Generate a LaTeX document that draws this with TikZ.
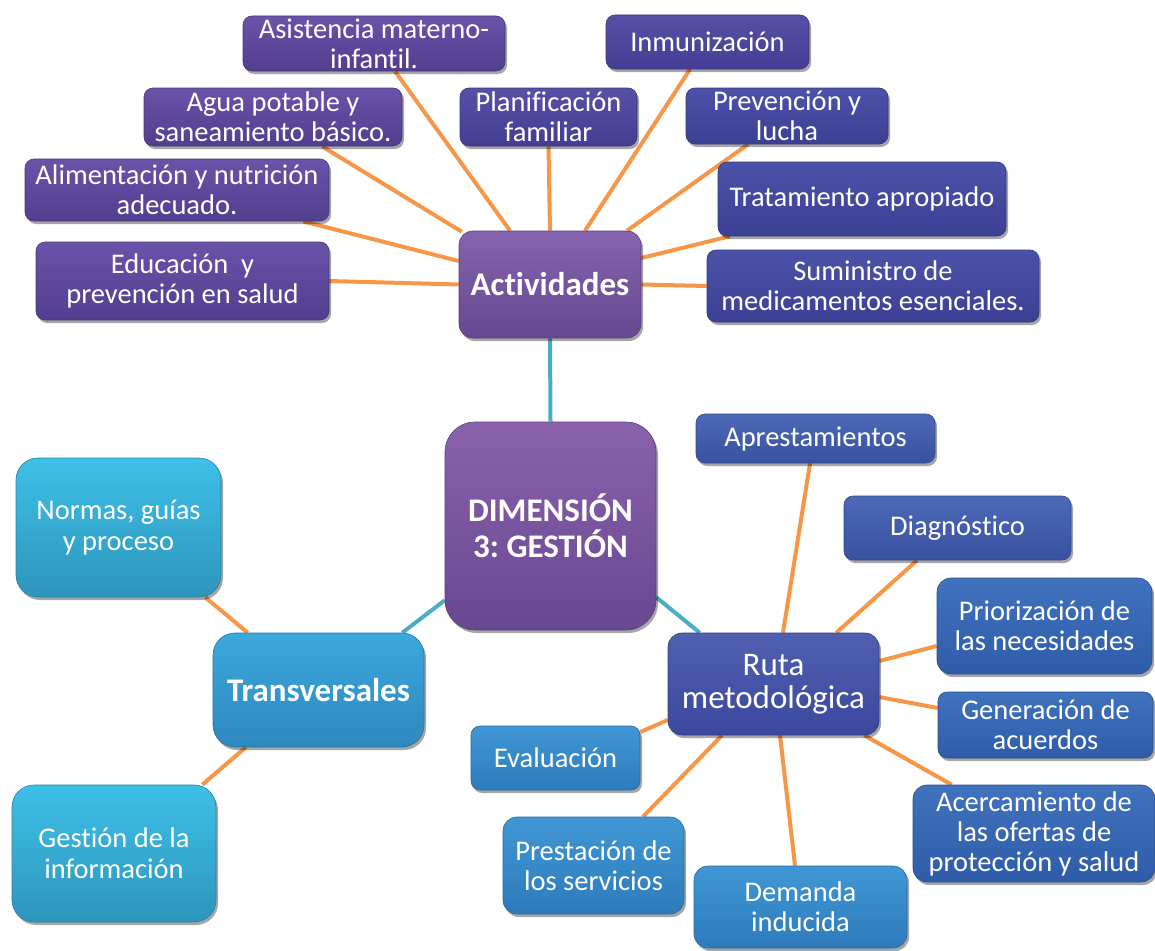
\documentclass[tikz,border=0pt]{standalone}
\usepackage{fontspec}
\setmainfont{Carlito}[Ligatures=NoCommon]
\usetikzlibrary{shadows,backgrounds}

% box colours: top / bottom of the vertical gradient
\definecolor{purTop}{HTML}{6A52A8}\definecolor{purBot}{HTML}{523E8F}
\definecolor{indTop}{HTML}{5650A6}\definecolor{indBot}{HTML}{433D93}
\definecolor{vioTop}{HTML}{4C52A8}\definecolor{vioBot}{HTML}{3C4095}
\definecolor{actTop}{HTML}{8664AE}\definecolor{actBot}{HTML}{664790}
\definecolor{dimTop}{HTML}{8A62AC}\definecolor{dimBot}{HTML}{694891}
\definecolor{rutTop}{HTML}{5060B0}\definecolor{rutBot}{HTML}{3B489E}
\definecolor{bluTop}{HTML}{4C68B6}\definecolor{bluBot}{HTML}{3952A0}
\definecolor{medTop}{HTML}{4072BE}\definecolor{medBot}{HTML}{2F5CA8}
\definecolor{ligTop}{HTML}{4097D4}\definecolor{ligBot}{HTML}{2E7BBB}
\definecolor{traTop}{HTML}{3CA8DC}\definecolor{traBot}{HTML}{2E88BE}
\definecolor{cyaTop}{HTML}{3EC0E8}\definecolor{cyaBot}{HTML}{2E95BC}
\definecolor{linkOrange}{HTML}{F79646}
\definecolor{linkTeal}{HTML}{4BACC6}

\tikzset{
  box/.style n args={2}{rectangle, rounded corners=9pt, top color=#1, bottom color=#2,
    draw=#2!85!black, line width=0.6pt, text=white, align=center, inner sep=0pt,
    font=\fontsize{28.5}{30}\selectfont,
    drop shadow={shadow xshift=2pt, shadow yshift=-3pt, opacity=0.35, fill=black}},
  bigbox/.style={rounded corners=22pt},
  headfont/.style={font=\fontsize{33}{36}\selectfont\bfseries},
  orangelink/.style={draw=linkOrange, line width=4pt},
  teallink/.style={draw=linkTeal, line width=4pt},
}

\begin{document}
\frenchspacing
\begin{tikzpicture}[x=1pt,y=-1pt]
\useasboundingbox (0,0) rectangle (1155,950);

% ---- Actividades branch ----
\node[box={purTop}{purBot}, minimum width=262pt, minimum height=55pt] (asis) at (374,43.5)
  {Asistencia materno-\\infantil.};
\node[box={indTop}{indBot}, minimum width=203pt, minimum height=54pt] (inmu) at (707.5,42)
  {Inmunización};
\node[box={purTop}{purBot}, minimum width=258pt, minimum height=58pt] (agua) at (273,117)
  {Agua potable y\\saneamiento básico.};
\node[box={indTop}{indBot}, minimum width=177pt, minimum height=58pt] (plan) at (548.5,117)
  {Planificación\\familiar};
\node[box={vioTop}{vioBot}, minimum width=202pt, minimum height=56pt] (prev) at (787,116)
  {Prevención y\\lucha};
\node[box={purTop}{purBot}, minimum width=304pt, minimum height=62pt] (alim) at (177,190)
  {Alimentación y nutrición\\adecuado.};
\node[box={vioTop}{vioBot}, minimum width=288pt, minimum height=74pt] (trat) at (862,199)
  {Tratamiento apropiado};
\node[box={purTop}{purBot}, minimum width=293pt, minimum height=78pt] (educ) at (182.5,281)
  {Educación\ \ y\\prevención en salud};
\node[box={actTop}{actBot}, minimum width=182pt, minimum height=107pt, rounded corners=14pt,
  headfont] (acti) at (550,284.5) {Actividades};
\node[box={vioTop}{vioBot}, minimum width=332pt, minimum height=72pt] (sumi) at (873,286)
  {Suministro de\\medicamentos esenciales.};

% ---- centre ----
\node[box={dimTop}{dimBot}, rounded corners=30pt, minimum width=211pt, minimum height=208pt,
  headfont] (dim) at (550.5,526) {DIMENSIÓN\\3: GESTIÓN};

% ---- Transversales branch ----
\node[box={cyaTop}{cyaBot}, bigbox, minimum width=205pt, minimum height=139pt,
  font=\fontsize{28.5}{31}\selectfont] (norm) at (118.5,527.5) {Normas, guías\\y proceso};
\node[box={traTop}{traBot}, bigbox, minimum width=211pt, minimum height=114pt,
  headfont] (tran) at (318.5,690) {Transversales};
\node[box={cyaTop}{cyaBot}, bigbox, minimum width=204pt, minimum height=137pt,
  font=\fontsize{28.5}{31}\selectfont] (gest) at (114,853.5) {Gestión de la\\información};

% ---- Ruta metodológica branch ----
\node[box={bluTop}{bluBot}, minimum width=239pt, minimum height=49pt] (apre) at (815.5,438.5)
  {Aprestamientos};
\node[box={bluTop}{bluBot}, minimum width=227pt, minimum height=64pt] (diag) at (957.5,528)
  {Diagnóstico};
\node[box={medTop}{medBot}, rounded corners=14pt, minimum width=215pt, minimum height=96pt] (prio) at (1044.5,626)
  {Priorización de\\las necesidades};
\node[box={rutTop}{rutBot}, rounded corners=14pt, minimum width=211pt, minimum height=102pt,
  font=\fontsize{33}{33}\selectfont] (ruta) at (773.5,684) {Ruta\\metodológica};
\node[box={medTop}{medBot}, minimum width=215pt, minimum height=66pt] (gene) at (1045.5,725)
  {Generación de\\acuerdos};
\node[box={ligTop}{ligBot}, minimum width=169pt, minimum height=64pt] (eval) at (555.5,758)
  {Evaluación};
\node[box={medTop}{medBot}, rounded corners=14pt, minimum width=242pt, minimum height=97pt] (acer) at (1034,833.5)
  {Acercamiento de\\las ofertas de\\protección y salud};
\node[box={ligTop}{ligBot}, rounded corners=14pt, minimum width=181pt, minimum height=97pt] (pres) at (593.5,865.5)
  {Prestación de\\los servicios};
\node[box={ligTop}{ligBot}, rounded corners=14pt, minimum width=213pt, minimum height=82pt] (dema) at (800.5,907)
  {Demanda\\inducida};

% ---- connectors, kept behind the boxes ----
\begin{pgfonlayer}{background}
  % activities
  \draw[orangelink] ([xshift=21pt]asis.south) -- ([xshift=-40pt]acti.north);
  \draw[orangelink] ([xshift=49pt]agua.south) -- ([xshift=3pt,yshift=-1pt]acti.north west);
  \draw[orangelink] ([xshift=126pt]alim.south) -- ([yshift=23.5pt]acti.west);
  \draw[orangelink] (educ.east) -- (acti.west);
  \draw[orangelink] (plan.south) -- (acti.north);
  \draw[orangelink] ([xshift=-17.5pt]inmu.south) -- ([xshift=35pt]acti.north);
  \draw[orangelink] ([xshift=-39pt]prev.south) -- ([xshift=77pt]acti.north);
  \draw[orangelink] ([xshift=12pt]trat.south west) -- ([yshift=26.5pt]acti.east);
  \draw[orangelink] (sumi.west) -- (acti.east);
  % centre links
  \draw[teallink] (acti.south) -- (dim.north);
  \draw[teallink] ([yshift=30pt]dim.south west) -- ([xshift=-22pt]tran.north east);
  \draw[teallink] ([yshift=33pt]dim.south east) -- ([xshift=32pt]ruta.north west);
  % transversal items
  \draw[orangelink] ([xshift=-16pt]norm.south east) -- ([xshift=35pt]tran.north west);
  \draw[orangelink] ([xshift=33pt]tran.south west) -- ([xshift=-14pt]gest.north east);
  % methodological route
  \draw[orangelink] ([xshift=-5.5pt]apre.south) -- ([xshift=9.5pt]ruta.north);
  \draw[orangelink] ([xshift=-40.5pt]diag.south) -- ([xshift=-43pt]ruta.north east);
  \draw[orangelink] ([yshift=-20pt]prio.west) -- ([yshift=23pt]ruta.east);
  \draw[orangelink] ([yshift=17pt]gene.west) -- ([yshift=-13pt]ruta.east);
  \draw[orangelink] ([xshift=39pt]acer.north west) -- ([xshift=-15pt]ruta.south east);
  \draw[orangelink] ([xshift=-5.5pt]dema.north) -- ([xshift=6.5pt]ruta.south);
  \draw[orangelink] ([xshift=49.5pt]pres.north) -- ([xshift=-51.5pt]ruta.south);
  \draw[orangelink] ([yshift=26pt]eval.east) -- ([yshift=-36pt]ruta.west);
\end{pgfonlayer}
\end{tikzpicture}
\end{document}
